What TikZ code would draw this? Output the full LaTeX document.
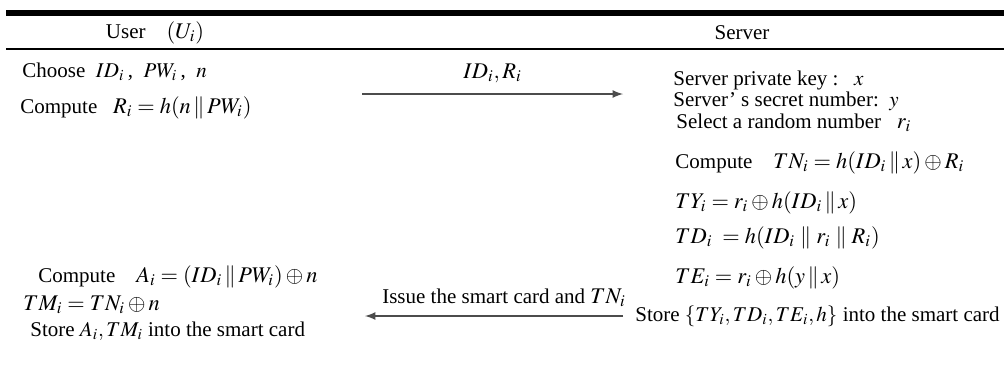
\documentclass[tikz,border=0pt]{standalone}
\usepackage{mathptmx}
\usepackage{fontspec}
\setmainfont{Liberation Serif}
\usepackage{amsmath}

\newcommand{\mbig}[1]{{\fontsize{11.2}{13}\selectfont$#1$}}

\tikzset{
    txt/.style={anchor=west, inner sep=0pt, font=\fontsize{10.5}{12}\selectfont},
    msg/.style={draw=black!70, thick, -latex}
}

\begin{document}
\begin{tikzpicture}[x=0.5pt, y=-0.5pt]
            \useasboundingbox (0,0) rectangle (1004,376);
            % table rules
            \draw[line width=3pt] (6,13) -- (1004,13);
            \draw[line width=1.4pt] (6,49) -- (1004,49);
            
            % headers
            \node[txt, anchor=center] (user) at (155,33) {User\quad \mbig{(U_i)}};
            \node[txt, anchor=center] (server) at (742,33) {Server};
            
            % user side, registration
            \node[txt] (choose) at (22,72) {Choose\ \ $ID_i$\,,\ \ $PW_i$\,,\ \ $n$};
            \node[txt] (computeR) at (20,108) {Compute\ \ \ \mbig{R_i = h(n \,\|\, PW_i)}};
            
            % server side
            \node[txt] (key) at (673,80) {Server private key :\ \ \ $x$};
            \node[txt] (secret) at (673,101) {Server’\ s secret number:\ \ $y$};
            \node[txt] (rand) at (676,123) {Select a random number\ \ \ \mbig{r_i}};
            \node[txt] (computeTN) at (675,163) {Compute\ \ \ \ \mbig{TN_i = h(ID_i \,\|\, x) \oplus R_i}};
            \node[txt] (TY) at (675,203) {\mbig{TY_i = r_i \oplus h(ID_i \,\|\, x)}};
            \node[txt] (TD) at (675,238) {\mbig{TD_i\; = h(ID_i \;\|\; r_i \;\|\; R_i)}};
            \node[txt] (TE) at (675,278) {\mbig{TE_i = r_i \oplus h(y \,\|\, x)}};
            \node[txt] (store) at (635,316) {Store $\{TY_i, TD_i, TE_i, h\}$ into the smart card};
            
            % user side, card
            \node[txt] (computeA) at (38,277) {Compute\ \ \ \ \mbig{A_i = (ID_i \,\|\, PW_i) \oplus n}};
            \node[txt] (TM) at (23,305) {\mbig{TM_i = TN_i \oplus n}};
            \node[txt] (storeA) at (30,331) {Store $A_i, TM_i$ into the smart card};
            
            % messages
            \coordinate (s1) at (362,94);
            \coordinate (e1) at (623,94);
            \draw[msg] (s1) -- (e1) node[midway, above=2pt, font=\fontsize{11.2}{13}\selectfont] {$ID_i, R_i$};
            
            \coordinate (s2) at (623,316);
            \coordinate (e2) at (365,316);
            \draw[msg] (s2) -- (e2)
                node[midway, above=1pt, xshift=5pt, font=\fontsize{10.5}{12}\selectfont] {Issue the smart card and \mbig{TN_i}};
        \end{tikzpicture}
\end{document}
